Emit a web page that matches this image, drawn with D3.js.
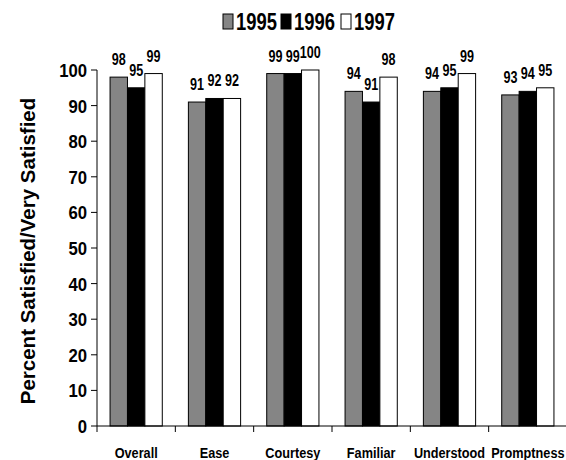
<!DOCTYPE html>
<html><head><meta charset="utf-8">
<script src="https://cdn.jsdelivr.net/npm/d3@7"></script>
<style>body{margin:0;background:#fff}svg{display:block}</style>
</head><body>
<script>
const categories = ["Overall","Ease","Courtesy","Familiar","Understood","Promptness"];
const seriesNames = ["1995","1996","1997"];
const v1995 = [98,91,99,94,94,93];
const v1996 = [95,92,99,91,95,94];
const v1997 = [99,92,100,98,99,95];
const yTicks = [0,10,20,30,40,50,60,70,80,90,100];
const colors = ["#858585","#000000","#ffffff"];
const series = [v1995, v1996, v1997];

const W = 566, H = 460;
const FONT = "'Liberation Sans',Arial,sans-serif";
const svg = d3.select("body").append("svg").attr("width", W).attr("height", H);

const x0 = d3.scaleBand().domain(categories).range([97, 567]).padding(0);
const x1 = d3.scaleBand().domain(seriesNames).range([0, x0.bandwidth()]).paddingInner(0).paddingOuter(0.75);
const y = d3.scaleLinear().domain([0, 100]).range([426, 70]);

function ntext(g, xx, yy, txt, size, sx, anchor) {
  return g.append("text")
    .attr("transform", `translate(${xx},${yy}) scale(${sx},1)`)
    .attr("text-anchor", anchor || "middle")
    .style("font-family", FONT).style("font-weight", "bold")
    .style("font-size", size + "px").attr("fill", "#000").text(txt);
}

// bars
const groups = svg.append("g").selectAll("g").data(categories).join("g")
  .attr("transform", d => `translate(${x0(d)},0)`);
groups.each(function(cat, ci) {
  const g = d3.select(this);
  seriesNames.forEach((s, si) => {
    const v = series[si][ci];
    g.append("rect")
      .attr("x", x1(s)).attr("y", y(v))
      .attr("width", x1.bandwidth()).attr("height", y(0) - y(v))
      .attr("fill", colors[si]).attr("stroke", "#000").attr("stroke-width", 1);
    ntext(g, x1(s) + x1.bandwidth() / 2, y(v) - 12, String(v), 17, 0.74);
  });
});

// y axis
const yAxisG = svg.append("g");
yAxisG.append("line").attr("x1", 97).attr("x2", 97).attr("y1", y(100)).attr("y2", y(0)).attr("stroke", "#000");
yTicks.forEach(t => {
  yAxisG.append("line").attr("x1", 91).attr("x2", 97).attr("y1", y(t)).attr("y2", y(t)).attr("stroke", "#000");
  ntext(yAxisG, 87, y(t) + 7, String(t), 19, 0.88, "end");
});

// x axis
const xAxisG = svg.append("g");
xAxisG.append("line").attr("x1", 97).attr("x2", 567).attr("y1", y(0)).attr("y2", y(0)).attr("stroke", "#000");
categories.forEach((c, i) => {
  xAxisG.append("line").attr("x1", x0(c)).attr("x2", x0(c)).attr("y1", y(0)).attr("y2", y(0) + 6).attr("stroke", "#000");
  ntext(xAxisG, x0(c) + x0.bandwidth() / 2, 458, c, 15.5, 0.82);
});

// y title
svg.append("text")
  .attr("transform", "translate(35,251) rotate(-90)")
  .attr("text-anchor", "middle")
  .style("font-family", FONT).style("font-weight", "bold")
  .style("font-size", "20.5px").text("Percent Satisfied/Very Satisfied");

// legend
const legendX = [223, 281, 341];
const leg = svg.append("g");
seriesNames.forEach((s, i) => {
  leg.append("rect").attr("x", legendX[i]).attr("y", 14).attr("width", 10).attr("height", 15)
    .attr("fill", colors[i]).attr("stroke", "#000").attr("stroke-width", 1);
  ntext(leg, legendX[i] + 13, 30, s, 23, 0.8, "start");
});
</script>
</body></html>
